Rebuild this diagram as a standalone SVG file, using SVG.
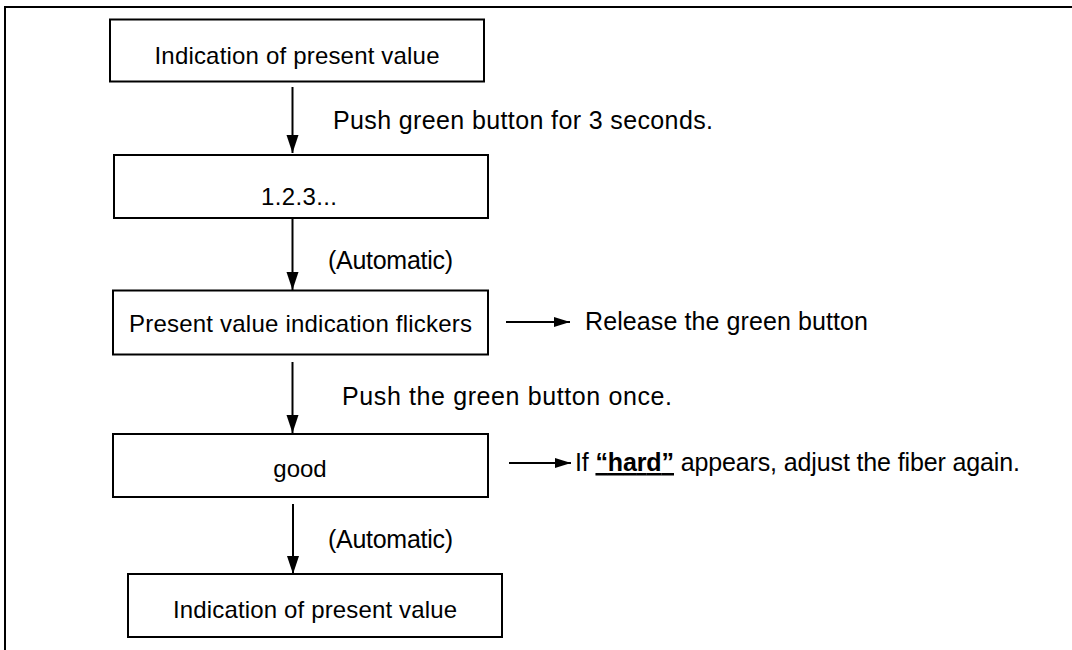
<svg xmlns="http://www.w3.org/2000/svg" width="1072" height="650" viewBox="0 0 1072 650">
<style>
.box{fill:#fff;stroke:#000;stroke-width:2}
.t{font-family:"Liberation Sans",Arial,sans-serif;font-size:24px;fill:#000}
.l{font-size:25px}
.c{text-anchor:middle}
.ln{stroke:#000;stroke-width:2;fill:none}
</style>
<defs>
<marker id="av" markerUnits="userSpaceOnUse" markerWidth="20" markerHeight="14" refX="18" refY="6" orient="auto"><path d="M0,0 L18,6 L0,12 Z" fill="#000"/></marker>
<marker id="ah" markerUnits="userSpaceOnUse" markerWidth="18" markerHeight="12" refX="16" refY="5" orient="auto"><path d="M0,0 L16,5 L0,10 Z" fill="#000"/></marker>
</defs>
<rect width="1072" height="650" fill="#fff"/>
<path d="M5,650 V7 H1072" fill="none" stroke="#000" stroke-width="2"/>
<g id="n1"><rect class="box" x="110" y="19.5" width="374" height="62"/><text class="t c" x="297" y="64" textLength="285" lengthAdjust="spacing">Indication of present value</text></g>
<g id="n2"><rect class="box" x="114" y="155" width="374" height="63"/><text class="t c" x="299" y="205" textLength="76" lengthAdjust="spacing">1.2.3...</text></g>
<g id="n3"><rect class="box" x="113" y="290.5" width="375" height="64"/><text class="t c" x="300.5" y="332" textLength="343" lengthAdjust="spacing">Present value indication flickers</text></g>
<g id="n4"><rect class="box" x="113" y="434" width="375" height="63"/><text class="t c" x="300" y="476.5">good</text></g>
<g id="n5"><rect class="box" x="128" y="574" width="374" height="63"/><text class="t c" x="315" y="617.5" textLength="284" lengthAdjust="spacing">Indication of present value</text></g>
<g id="connectors">
<line class="ln" x1="292.5" y1="87" x2="292.5" y2="153" marker-end="url(#av)"/>
<line class="ln" x1="292.5" y1="218" x2="292.5" y2="290" marker-end="url(#av)"/>
<line class="ln" x1="292.5" y1="362" x2="292.5" y2="433" marker-end="url(#av)"/>
<line class="ln" x1="293" y1="504" x2="293" y2="574" marker-end="url(#av)"/>
<line class="ln" x1="506" y1="322" x2="570" y2="322" marker-end="url(#ah)"/>
<line class="ln" x1="509" y1="463" x2="571" y2="463" marker-end="url(#ah)"/>
</g>
<g id="labels">
<text class="t l" x="333" y="129" textLength="380" lengthAdjust="spacing">Push green button for 3 seconds.</text>
<text class="t l" x="328" y="269" textLength="125" lengthAdjust="spacing">(Automatic)</text>
<text class="t l" x="585" y="330" textLength="283" lengthAdjust="spacing">Release the green button</text>
<text class="t l" x="342" y="405" textLength="330" lengthAdjust="spacing">Push the green button once.</text>
<text class="t l" x="575" y="471" textLength="445" lengthAdjust="spacing">If <tspan font-weight="bold" text-decoration="underline">“hard”</tspan> appears, adjust the fiber again.</text>
<text class="t l" x="328" y="548" textLength="125" lengthAdjust="spacing">(Automatic)</text>
</g>
</svg>
